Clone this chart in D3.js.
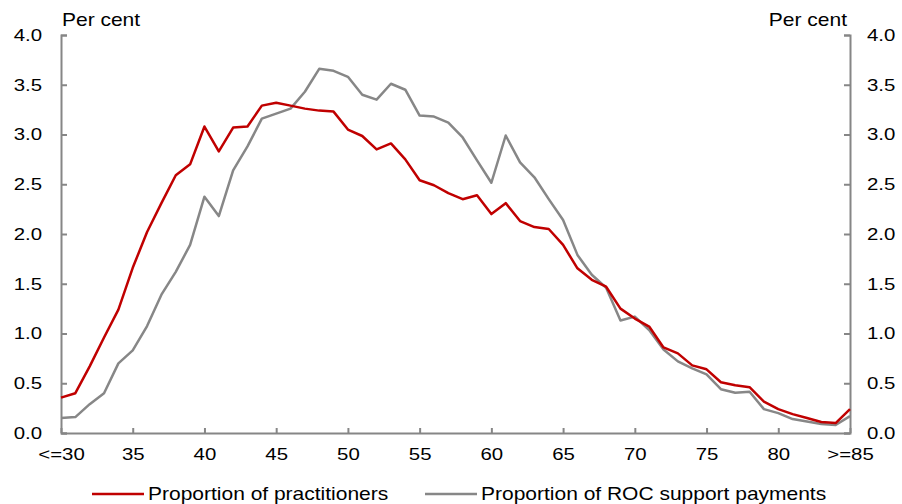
<!DOCTYPE html>
<html lang="en">
<head>
    <meta charset="UTF-8">
    <script src="https://d3js.org/d3.v7.min.js"></script>
    <title>Practitioners by age</title>
    <style>
        body { margin: 0; background: #fff; }
        text { font-family: "Liberation Sans", Arial, sans-serif; fill: #000; }
    </style>
</head>
<body>
    <div id="chart"></div>
    <script>
// ages 30 (<=30) .. 85 (>=85)
var ages = d3.range(30, 86);
var tickAges = [30, 35, 40, 45, 50, 55, 60, 65, 70, 75, 80, 85];
var tickLabels = ["<=30", "35", "40", "45", "50", "55", "60", "65", "70", "75", "80", ">=85"];
var yTicks = [0, 0.5, 1, 1.5, 2, 2.5, 3, 3.5, 4];

var practitioners = [0.355, 0.40, 0.67, 0.96, 1.24, 1.66, 2.02, 2.31, 2.59, 2.70,
    3.08, 2.83, 3.07, 3.08, 3.29, 3.32, 3.29, 3.26, 3.24, 3.23,
    3.05, 2.985, 2.85, 2.91, 2.75, 2.54, 2.49, 2.41, 2.35, 2.39,
    2.20, 2.31, 2.13, 2.07, 2.05, 1.89, 1.655, 1.54, 1.47, 1.25,
    1.15, 1.07, 0.86, 0.80, 0.68, 0.64, 0.51, 0.48, 0.46, 0.315,
    0.24, 0.19, 0.15, 0.11, 0.10, 0.24];
var rocPayments = [0.15, 0.16, 0.29, 0.40, 0.70, 0.83, 1.075, 1.39, 1.62, 1.89,
    2.375, 2.18, 2.64, 2.88, 3.16, 3.21, 3.26, 3.43, 3.66, 3.64,
    3.58, 3.40, 3.35, 3.51, 3.45, 3.19, 3.18, 3.12, 2.97, 2.74,
    2.515, 2.99, 2.72, 2.57, 2.35, 2.14, 1.79, 1.59, 1.46, 1.13,
    1.17, 1.035, 0.84, 0.72, 0.65, 0.59, 0.44, 0.405, 0.415, 0.24,
    0.20, 0.14, 0.115, 0.09, 0.08, 0.17];

var W = 902, H = 504;
var margin = {top: 35, right: 52, bottom: 71, left: 61};
var width = W - margin.left - margin.right,
    height = H - margin.top - margin.bottom;
var axisColor = "#868686";
var sx = 1.2; // text in the original is drawn wide

// stretch text horizontally while keeping its anchor point
function stretch(sel) {
    sel.each(function() {
        var t = d3.select(this);
        var x0 = +t.attr("x") || 0;
        t.attr("x", x0 / sx).attr("transform", "scale(" + sx + ",1)");
    });
}

var svg = d3.select("#chart").append("svg")
    .attr("width", W)
    .attr("height", H);
var g = svg.append("g")
    .attr("transform", "translate(" + margin.left + "," + margin.top + ")");

var x = d3.scaleLinear().domain([30, 85]).range([0, width]);
var y = d3.scaleLinear().domain([0, 4]).range([height, 0]);

// left axis
var left = g.append("g")
    .call(d3.axisLeft(y).tickValues(yTicks).tickFormat(d3.format(".1f"))
        .tickSizeInner(-6).tickSizeOuter(-6).tickPadding(19));
// right axis
var right = g.append("g")
    .attr("transform", "translate(" + width + ",0)")
    .call(d3.axisRight(y).tickValues(yTicks).tickFormat(d3.format(".1f"))
        .tickSizeInner(-6).tickSizeOuter(-6).tickPadding(17));
// bottom axis
var bottom = g.append("g")
    .attr("transform", "translate(0," + height + ")")
    .call(d3.axisBottom(x).tickValues(tickAges)
        .tickFormat(function(d, i) { return tickLabels[i]; })
        .tickSizeInner(-5).tickSizeOuter(0).tickPadding(15));

[left, right, bottom].forEach(function(a) {
    a.selectAll("path, line").attr("stroke", axisColor).attr("stroke-width", 2);
    a.selectAll("text").style("font-size", "17px").attr("fill", "#000").call(stretch);
});

// axis titles
g.append("text").text("Per cent")
    .attr("x", 1).attr("y", -9)
    .style("font-size", "17.5px").call(stretch);
g.append("text").text("Per cent")
    .attr("x", width - 3).attr("y", -9)
    .attr("text-anchor", "end")
    .style("font-size", "17.5px").call(stretch);

var line = d3.line()
    .x(function(d, i) { return x(ages[i]); })
    .y(function(d) { return y(d); });

g.append("path").datum(rocPayments)
    .attr("fill", "none")
    .attr("stroke", "#878787")
    .attr("stroke-width", 2.5)
    .attr("stroke-linejoin", "round")
    .attr("d", line);

g.append("path").datum(practitioners)
    .attr("fill", "none")
    .attr("stroke", "#c00000")
    .attr("stroke-width", 2.5)
    .attr("stroke-linejoin", "round")
    .attr("d", line);

// legend
var legend = svg.append("g");
var items = [
    {label: "Proportion of practitioners", color: "#c00000", x: 92},
    {label: "Proportion of ROC support payments", color: "#878787", x: 425}
];
items.forEach(function(it) {
    legend.append("line")
        .attr("x1", it.x).attr("x2", it.x + 52)
        .attr("y1", 494).attr("y2", 494)
        .attr("stroke", it.color).attr("stroke-width", 2.5);
    legend.append("text").text(it.label)
        .attr("x", it.x + 56).attr("y", 500)
        .style("font-size", "17.5px").call(stretch);
});
    </script>
</body>
</html>
